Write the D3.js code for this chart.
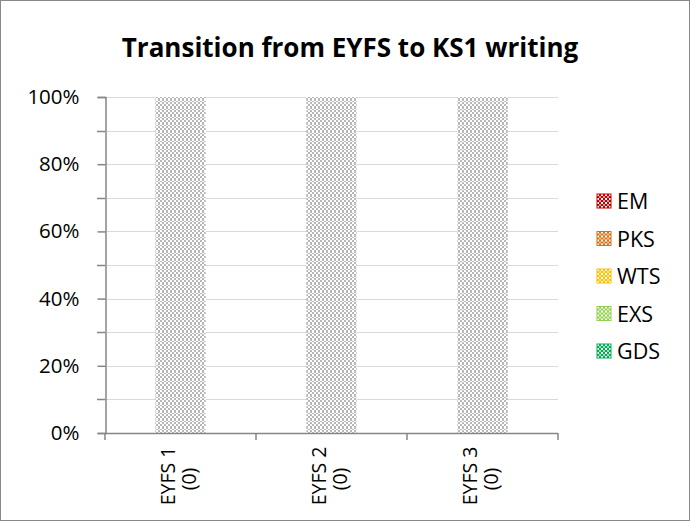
<!DOCTYPE html>
<html>
<head>
<meta charset="utf-8">
<script src="https://cdn.jsdelivr.net/npm/d3@7"></script>
<style>
  body { margin: 0; background: #fff; }
  text { font-family: "Open Sans", "Noto Sans", sans-serif; fill: #000; }
</style>
</head>
<body>
<svg id="chart"></svg>
<script>
const categories = ["EYFS 1", "EYFS 2", "EYFS 3"];
const counts = [0, 0, 0];
const seriesNames = ["EM", "PKS", "WTS", "EXS", "GDS"];
const seriesColors = ["#c00000", "#e46c0a", "#ffc000", "#92d050", "#00b050"];
const EM = [0, 0, 0];
const PKS = [0, 0, 0];
const WTS = [0, 0, 0];
const EXS = [0, 0, 0];
const GDS = [0, 0, 0];
// placeholder series that fills an empty column
const noData = [1, 1, 1];
const yTicks = [0, 0.2, 0.4, 0.6, 0.8, 1];

const width = 690, height = 521;
const svg = d3.select("#chart").attr("width", width).attr("height", height);

const defs = svg.append("defs");
function addPattern(id, color) {
  const p = defs.append("pattern").attr("id", id).attr("patternUnits", "userSpaceOnUse")
    .attr("width", 8).attr("height", 8);
  p.append("rect").attr("width", 8).attr("height", 8).attr("fill", "#fff");
  [[0,0,2,2],[4,0,2,2],[2,2,2,3],[6,2,2,3],[0,5,2,1],[4,5,2,1],[2,6,2,2],[6,6,2,2]]
    .forEach(r => p.append("rect").attr("x", r[0]).attr("y", r[1]).attr("width", r[2]).attr("height", r[3]).attr("fill", color));
}
addPattern("p-gray", "#b8b8b8");
seriesColors.forEach((c, i) => {
  const p = defs.append("pattern").attr("id", "p" + i).attr("patternUnits", "userSpaceOnUse")
    .attr("width", 4).attr("height", 4);
  p.append("rect").attr("width", 4).attr("height", 4).attr("fill", c);
  p.append("rect").attr("x", 0).attr("y", 0).attr("width", 2).attr("height", 2).attr("fill", "#fff");
  p.append("rect").attr("x", 2).attr("y", 2).attr("width", 2).attr("height", 2).attr("fill", "#fff").attr("opacity", 0.6);
});

// outer border
svg.append("rect").attr("x", 0.5).attr("y", 0.5).attr("width", width - 1).attr("height", height - 1)
  .attr("fill", "#fff").attr("stroke", "#888");

svg.append("text").attr("x", 350).attr("y", 57).attr("text-anchor", "middle")
  .attr("font-size", 26).attr("font-weight", "bold").text("Transition from EYFS to KS1 writing");

const plotL = 105, plotR = 558, plotT = 97, plotB = 433;
const x = d3.scaleBand().domain(categories).range([plotL, plotR]);
const y = d3.scaleLinear().domain([0, 1]).range([plotB, plotT]);

// gridlines
svg.append("g").selectAll("line").data(d3.range(0, 1.0001, 0.1)).join("line")
  .attr("x1", plotL).attr("x2", plotR)
  .attr("y1", d => Math.round(y(d)) + 0.5).attr("y2", d => Math.round(y(d)) + 0.5)
  .attr("stroke", "#d9d9d9");

// stacked data
const valuesBy = { EM, PKS, WTS, EXS, GDS, noData };
const keys = [...seriesNames, "noData"];
const rows = categories.map((c, i) => {
  const o = { cat: c };
  let tot = 0;
  keys.forEach(k => tot += valuesBy[k][i]);
  keys.forEach(k => o[k] = tot ? valuesBy[k][i] / tot : 0);
  return o;
});
const stacked = d3.stack().keys(keys)(rows);
const barW = x.bandwidth() / 3;
svg.append("g").selectAll("g").data(stacked).join("g")
  .attr("fill", (d, i) => i < seriesNames.length ? `url(#p${i})` : "url(#p-gray)")
  .selectAll("rect").data(d => d).join("rect")
  .attr("x", d => x(d.data.cat) + x.bandwidth() / 2 - barW / 2)
  .attr("width", barW)
  .attr("y", d => y(d[1]))
  .attr("height", d => y(d[0]) - y(d[1]));

// y axis
const yAxis = svg.append("g").attr("transform", `translate(${plotL + 0.5},0)`)
  .call(d3.axisLeft(y).tickValues(yTicks).tickFormat(d3.format(".0%")).tickSize(8).tickPadding(18));
yAxis.select(".domain").attr("stroke", "#868686").attr("stroke-width", 1.5);
yAxis.selectAll(".tick line").attr("stroke", "#868686").attr("stroke-width", 1.5);
yAxis.selectAll(".tick text").attr("font-size", 20.5).attr("font-family", "'Open Sans', sans-serif").attr("fill", "#000");
svg.append("g").selectAll("line").data([0.1, 0.3, 0.5, 0.7, 0.9]).join("line")
  .attr("x1", plotL - 8).attr("x2", plotL)
  .attr("y1", d => Math.round(y(d)) + 0.5).attr("y2", d => Math.round(y(d)) + 0.5)
  .attr("stroke", "#868686").attr("stroke-width", 1.5);

// x axis
svg.append("line").attr("x1", plotL).attr("x2", plotR).attr("y1", plotB + 0.5).attr("y2", plotB + 0.5)
  .attr("stroke", "#868686").attr("stroke-width", 1.5);
svg.append("g").selectAll("line").data([...categories.map(c => x(c)), plotR]).join("line")
  .attr("x1", d => d).attr("x2", d => d).attr("y1", plotB).attr("y2", plotB + 7)
  .attr("stroke", "#868686").attr("stroke-width", 1.5);
const xl = svg.append("g").selectAll("text").data(categories).join("text")
  .attr("transform", d => `translate(${x(d) + x.bandwidth() / 2},0) rotate(-90)`)
  .attr("text-anchor", "middle").attr("font-size", 19.5);
xl.append("tspan").attr("x", -476).attr("y", -5.5).text(d => d);
xl.append("tspan").attr("x", -479).attr("y", 15).text((d, i) => `(${counts[i]})`);

// legend
const lg = svg.append("g").selectAll("g").data(seriesNames).join("g")
  .attr("transform", (d, i) => `translate(597,${194 + i * 37.5})`);
lg.append("rect").attr("width", 14).attr("height", 14).attr("fill", (d, i) => `url(#p${i})`)
  .attr("stroke", (d, i) => seriesColors[i]).attr("stroke-width", 1);
lg.append("text").attr("x", 20).attr("y", 15).attr("font-size", 21.5).text(d => d);
</script>
</body>
</html>
